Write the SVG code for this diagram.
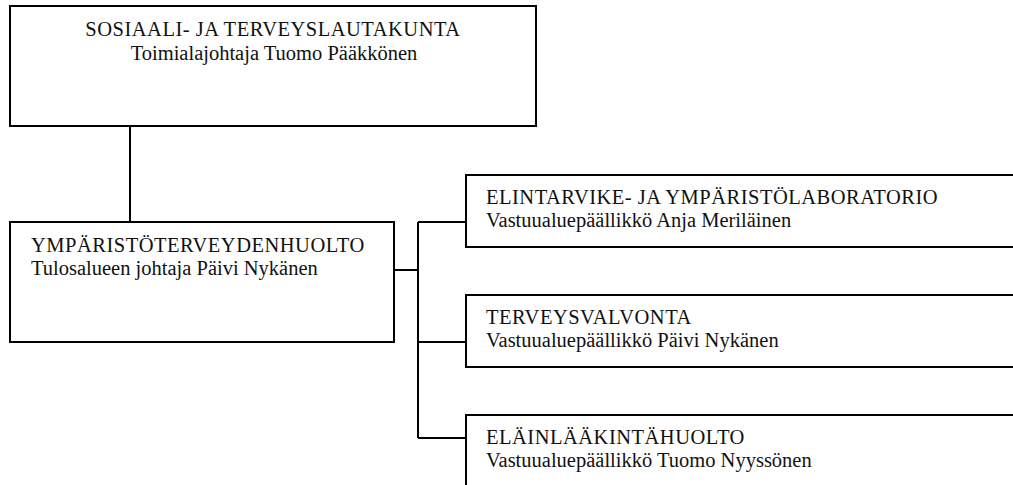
<svg xmlns="http://www.w3.org/2000/svg" width="1013" height="485" viewBox="0 0 1013 485">
  <style>
    .box { fill: #fff; stroke: #000; stroke-width: 2; }
    .wire { fill: none; stroke: #000; stroke-width: 2; }
    .t { font-family: "Liberation Serif", "Times New Roman", serif; font-size: 20.5px; fill: #111; }
    .caps { letter-spacing: 0.5px; }
    .c { text-anchor: middle; }
  </style>
  <rect width="1013" height="485" fill="#fff"/>

  <!-- connectors -->
  <g id="connectors">
    <path class="wire" d="M130 126 V222"/>
    <path class="wire" d="M394 270 H418"/>
    <path class="wire" d="M418 222 V438"/>
    <path class="wire" d="M418 222 H466"/>
    <path class="wire" d="M418 342 H466"/>
    <path class="wire" d="M418 438 H466"/>
  </g>

  <g id="lautakunta">
    <rect class="box" x="10" y="6" width="526" height="120"/>
    <text class="t c caps" x="273" y="36">SOSIAALI- JA TERVEYSLAUTAKUNTA</text>
    <text class="t c" x="274" y="60">Toimialajohtaja Tuomo Pääkkönen</text>
  </g>

  <g id="ymparistoterveydenhuolto">
    <rect class="box" x="10" y="222" width="384" height="120"/>
    <text class="t caps" x="31" y="252">YMPÄRISTÖTERVEYDENHUOLTO</text>
    <text class="t" x="31" y="275">Tulosalueen johtaja Päivi Nykänen</text>
  </g>

  <g id="laboratorio">
    <rect class="box" x="466" y="175" width="560" height="72"/>
    <text class="t caps" x="486" y="204">ELINTARVIKE- JA YMPÄRISTÖLABORATORIO</text>
    <text class="t" x="486" y="227">Vastuualuepäällikkö Anja Meriläinen</text>
  </g>

  <g id="terveysvalvonta">
    <rect class="box" x="466" y="295" width="560" height="72"/>
    <text class="t caps" x="486" y="324">TERVEYSVALVONTA</text>
    <text class="t" x="486" y="347">Vastuualuepäällikkö Päivi Nykänen</text>
  </g>

  <g id="elainlaakintahuolto">
    <rect class="box" x="466" y="415" width="560" height="80"/>
    <text class="t caps" x="486" y="444">ELÄINLÄÄKINTÄHUOLTO</text>
    <text class="t" x="486" y="467">Vastuualuepäällikkö Tuomo Nyyssönen</text>
  </g>
</svg>
